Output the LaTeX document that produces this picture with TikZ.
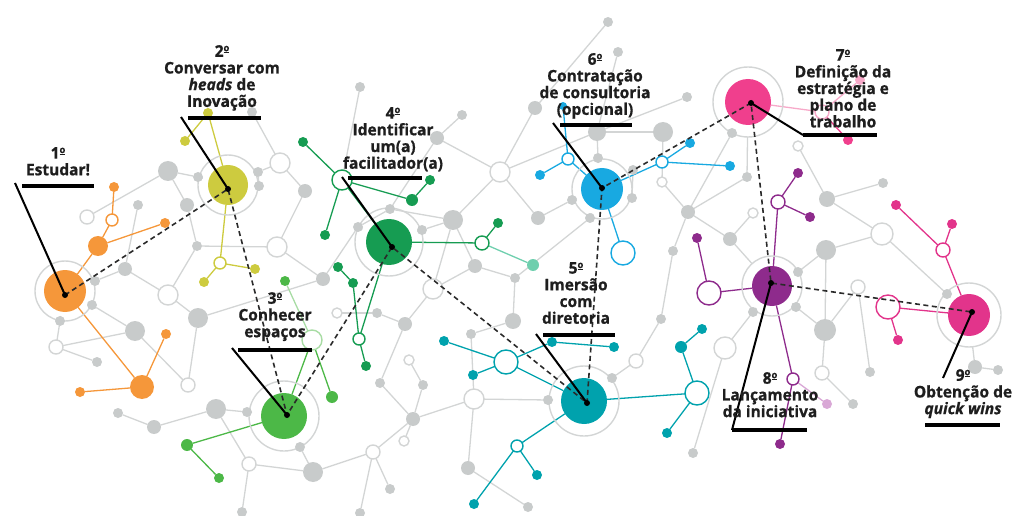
\documentclass[tikz,border=0pt]{standalone}
\usepackage{fontspec}
\setmainfont{Open Sans}[FakeStretch=0.97]
\pgfdeclarelayer{edgelayer}
\pgfsetlayers{edgelayer,main}
\definecolor{gnode}{HTML}{C8CBCB}
\definecolor{gline}{HTML}{D3D5D5}
\definecolor{corange}{HTML}{F5973A}
\definecolor{cyellow}{HTML}{CDCB3F}
\definecolor{cgreen}{HTML}{4CB847}
\definecolor{cgreenlight}{HTML}{A8DCA4}
\definecolor{cdgreen}{HTML}{169C52}
\definecolor{cmint}{HTML}{6FCFAE}
\definecolor{cteal}{HTML}{00A2AD}
\definecolor{cblue}{HTML}{18A9E1}
\definecolor{cpink}{HTML}{F03F8D}
\definecolor{cpinklight}{HTML}{F7A9C9}
\definecolor{cpurple}{HTML}{8E2B8C}
\definecolor{cpurplelight}{HTML}{D9A8D6}
\definecolor{cmag}{HTML}{E2348B}
\definecolor{dashc}{HTML}{2A2A2A}
\definecolor{textc}{HTML}{1E1E1E}
\newcommand{\ordo}{\raisebox{5.6pt}{\fontsize{9.5}{9.5}\selectfont\underline{o}}}
\tikzset{
  gfill/.style={circle, fill=gnode, draw=none, inner sep=0pt, outer sep=0pt},
  gopen/.style={circle, fill=white, draw=gline, line width=1.4pt, inner sep=0pt, outer sep=0pt},
  cfill/.style={circle, fill=#1, draw=none, inner sep=0pt, outer sep=0pt},
  copen/.style={circle, fill=white, draw=#1, line width=1.4pt, inner sep=0pt, outer sep=0pt},
  gedge/.style={draw=gline, line width=1.3pt},
  cedge/.style={draw=#1, line width=1.3pt},
  halo/.style={circle, draw=gline, line width=1.4pt, fill=none, inner sep=0pt, outer sep=0pt},
  bignode/.style={circle, fill=#1, draw=none, inner sep=0pt, outer sep=0pt},
  blackdot/.style={circle, fill=black, inner sep=0pt, minimum size=6pt},
  pathdash/.style={draw=dashc, line width=1.6pt, dash pattern=on 5pt off 3.5pt},
  leaderline/.style={draw=black, line width=2pt},
  barline/.style={draw=black, line width=4.5pt},
  lbl/.style={font=\fontsize{16}{16.7}\selectfont\bfseries\addfontfeature{FakeBold=0.8}, text=textc, align=center, anchor=north, inner sep=0pt},
}
\begin{document}
\begin{tikzpicture}[x=1pt,y=-1pt]
\useasboundingbox (0,0) rectangle (1013,516);
% halos
\foreach \n/\x/\y/\r in {H1/65/291/30, H2/228/185/30, H3/284/416/35, H4/389/242/34, H5/584/401/35, H6/602/189/30, H7/748/102/35, H8/772/286/30, H9/969/315/32}
  \node[halo, minimum size=2*\r] (\n) at (\x,\y) {};
% grey filled nodes
\foreach \n/\x/\y/\r in {g2/168/171/10, g3/138/205/5, g4/187/205/7, g5/198/177/5, g6/125/269/7, g7/95/281/5, g8/92/305/5, g9/60/321/5, g11/97/362/5, g12/135/331/10, g15/198/318/10, g16/197/246/5, g17/258/172/5, g18/259/186/5, g20/305/191/7, g22/252/112/5, g23/323/279/7, g24/216/409/10, g25/247/412/5, g26/118/413/5, g27/154/427/7, g29/242/512/5, g30/313/472/10, g31/300/447/5,
  g32/360/87/5, g33/462/115/5, g34/437/138/7, g36/453/220/10, g37/538/218/7, g38/390/209/5, g39/358/227/5, g40/422/230/5, g41/535/108/7, g42/608/22/5, g43/618/52/5, g44/597/132/9, g45/663/132/10, g47/633/170/5, g48/572/200/5, g49/590/218/5, g50/632/198/5, g51/475/266/7, g52/515/278/5, g54/377/313/5, g55/405/324/7, g56/513/321/8, g57/471/334/5, g60/380/383/5, g61/423/385/5, g63/413/419/7, g66/390/489/5, g67/360/513/5, g68/468/468/7, g69/528/507/5, g70/548/400/5, g71/612/378/5, g73/661/319/5,
  g74/687/97/5, g75/732/133/5, g76/747/177/5, g77/688/212/7, g79/827/199/8, g80/883/183/5, g83/826/250/10, g84/730/239/7, g85/798/272/5, g86/796/307/5, g87/753/312/5, g89/825/330/11, g91/870/372/5, g93/853/404/5, g94/693/453/5, g95/947/294/5, g96/975/367/7, g97/998/370/5, g98/598/158/5, g99/673/251/5}
  \node[gfill, minimum size=2*\r] (\n) at (\x,\y) {};
% grey open nodes
\foreach \n/\x/\y/\r in {g1/87/217/7, g10/56/347/7, g13/168/295/10, g14/188/385/7, g19/280/163/10, g21/277/247/10, g28/249/464/7, g35/500/172/10, g46/662/182/5, g53/433/289/10, g58/337/313/5, g59/409/360/5, g62/474/399/10, g64/404/441/5, g65/373/452/7, g72/636/361/7, g78/798/146/5, g81/753/213/5, g82/882/234/11, g88/725/348/11, g90/858/287/7, g92/822/373/7}
  \node[gopen, minimum size=2*\r] (\n) at (\x,\y) {};
% big step nodes
\foreach \n/\x/\y/\r/\c in {B1/65/291/21/corange, B2/228/185/20/cyellow, B3/284/416/23/cgreen, B4/389/242/23/cdgreen, B5/584/401/23/cteal, B6/602/189/21/cblue, B7/748/102/23/cpink, B8/772/286/20/cpurple, B9/969/315/21/cmag}
  \node[bignode=\c, minimum size=2*\r] (\n) at (\x,\y) {};
% coloured filled nodes
\foreach \n/\x/\y/\r/\c in {o1a/98/246/10/corange, o1c/114/187/5/corange, o1d/165/223/5/corange, o1e/142/387/12/corange, o1f/166/334/5/corange, o1g/80/392/5/corange,
  y2a/208/113/5/cyellow, y2b/185/141/5/cyellow, y2d/204/282/5/cyellow, y2e/255/269/5/cyellow,
  c3a/187/445/6/cgreen, c3b/219/478/5/cgreen, c3d/332/397/6/cgreen, c3e/285/281/5/cgreen,
  c4b/412/200/6/cdgreen, c4c/430/180/5/cdgreen, c4d/303/142/5/cdgreen, c4e/325/235/5/cdgreen, c4g/498/223/5/cdgreen, c4i/533/265/6/cmint, c4j/338/267/5/cdgreen, c4k/353/283/5/cdgreen, c4m/366/366/5/cdgreen,
  t5b/444/341/5/cteal, t5c/473/375/5/cteal, t5d/552/342/5/cteal, t5e/614/347/5/cteal, t5g/537/475/5/cteal, t5h/474/504/5/cteal, t5j/667/433/5/cteal, t5k/702/329/5/cteal, t5l/681/347/6/cteal,
  b6b/540/175/5/cblue, b6e/690/143/5/cblue, b6f/730/166/5/cblue, b6g/563/106/4/cblue,
  p7b/860/80/5/cpinklight, p7c/848/140/5/cpink,
  u8b/697/238/5/cpurple, u8d/798/173/5/cpurple, u8e/810/217/5/cpurple, u8g/827/404/5/cpurplelight, u8h/780/444/5/cpurple,
  m9b/898/340/5/cmag, m9d/896/205/5/cmag, m9e/952/224/5/cmag}
  \node[cfill=\c, minimum size=2*\r] (\n) at (\x,\y) {};
% coloured open nodes
\foreach \n/\x/\y/\r/\c in {o1b/112/220/6/corange, y2c/220/263/6/cyellow, c3c/312/340/10/cgreenlight, c4a/342/180/10/cdgreen, c4f/482/243/7/cdgreen, c4l/359/339/6/cdgreen, t5a/506/362/12/cteal, t5f/517/446/6/cteal, t5i/697/393/12/cteal, b6a/568/159/6/cblue, b6c/623/253/12/cblue, b6d/662/162/6/cblue, p7a/822/112/7/cpinklight, u8a/709/293/12/cpurple, u8c/778/202/7/cpurple, u8f/793/379/6/cpurple, m9a/888/307/12/cmag, m9c/943/250/7/cmag}
  \node[copen=\c, minimum size=2*\r] (\n) at (\x,\y) {};
% edges
\begin{pgfonlayer}{edgelayer}
\foreach \a/\b in {g1/g2, g2/g5, g5/H2, g3/g6, g2/g4, g4/g16, g16/g13, g6/g13, g6/g7, g7/H1, g8/H1, g8/g12, g9/H1, g9/g10, g10/g11, g10/g12, g12/g14, g15/g14, g15/g23, g15/g13, g21/g16, g21/g20, g21/g23, g19/g17, g19/g20, g19/g22, g17/g18, g18/H2, g26/g27, g27/g24, g24/g25, g25/H3, g24/g28, g28/g29, g28/g30, g30/g31, g31/H3, g30/g65, g23/g39,
  g32/c4a, g34/g33, g34/g35, g34/g38, g35/g36, g35/g37, g35/g44, g35/g41, g42/g41, g43/g44, g44/g45, g44/g98, g98/H6, g45/g46, g47/H6, g36/g40, g36/g38, g38/g39, g39/H4, g40/H4, g36/g53, g36/g51, g37/g48, g48/H6, g49/H6, g49/g52, g51/g52, g51/g53, g53/g55, g55/g54, g54/g58, g55/g60, g56/g57, g57/g62, g52/g56, g59/g61, g60/g63, g61/g63, g62/g63, g62/g68, g62/g70, g70/H5, g63/g64, g65/g63, g65/g66, g65/g67, g68/g69, g71/H5, g71/g72, g72/g73, g73/g99, g99/g77, g50/H6, g50/g47, g46/g77,
  g74/g44, g75/H7, g75/g77, g76/g77, g76/H7, g77/g84, g84/H8, g84/g81, g78/g79, g79/g80, g79/g82, g82/g83, g83/g85, g85/H8, g83/g89, g89/g86, g86/H8, g87/H8, g87/g88, g89/g90, g90/g91, g92/g93, g89/g92, g82/g95, g95/H9, g96/g97, g96/H9, g88/g94}
  \draw[gedge] (\a) -- (\b);
\foreach \a/\b/\c in {B1/o1a/corange, o1a/o1b/corange, o1b/o1c/corange, o1a/o1d/corange, B1/o1e/corange, o1e/o1f/corange, o1e/o1g/corange,
  B2/y2a/cyellow, y2a/y2b/cyellow, B2/y2c/cyellow, y2c/y2d/cyellow, y2c/y2e/cyellow,
  B3/c3a/cgreen, c3a/c3b/cgreen, B3/c3c/cgreen, c3c/c3d/cgreen, c3c/c3e/cgreenlight,
  B4/c4a/cdgreen, c4a/c4d/cdgreen, c4a/c4e/cdgreen, c4a/c4b/cdgreen, c4b/c4c/cdgreen, B4/c4f/cdgreen, c4f/c4g/cdgreen, c4f/c4i/cmint, B4/c4l/cdgreen, c4l/c4m/cdgreen, c4l/c4k/cdgreen, c4k/c4j/cdgreen,
  B5/t5a/cteal, t5a/t5b/cteal, t5a/t5c/cteal, t5a/t5d/cteal, t5d/t5e/cteal, B5/t5f/cteal, t5f/t5g/cteal, t5f/t5h/cteal, B5/t5i/cteal, t5i/t5l/cteal, t5l/t5k/cteal, t5i/t5j/cteal,
  B6/b6a/cblue, b6a/b6b/cblue, b6a/b6g/cblue, B6/b6c/cblue, B6/b6d/cblue, b6d/b6e/cblue, b6d/b6f/cblue,
  B7/p7a/cpinklight, p7a/p7b/cpinklight, p7a/p7c/cpink,
  B8/u8a/cpurple, u8a/u8b/cpurple, B8/u8c/cpurple, u8c/u8d/cpurple, u8c/u8e/cpurple, B8/u8f/cpurple, u8f/u8g/cpurplelight, u8f/u8h/cpurple,
  B9/m9a/cmag, m9a/m9b/cmag, B9/m9c/cmag, m9c/m9d/cmag, m9c/m9e/cmag}
  \draw[cedge=\c] (\a) -- (\b);
\end{pgfonlayer}
% step dots
\foreach \n/\x/\y in {d1/65/295, d2/228/189, d3/287/415, d4/392/247, d5/587/403, d6/602/188, d7/751/103, d8/771/283, d9/972/312}
  \coordinate (\n) at (\x,\y);
% dashed route
\draw[pathdash] (d1) -- (d2) -- (d3) -- (d4) -- (d5) -- (d6) -- (d7) -- (d8) -- (d9);
% bars and leader ends
\foreach \n/\xa/\xb/\y in {1/22/94/186, 2/188/261/118, 3/238/312/350, 4/348/422/178, 5/543/615/335, 6/560/632/125, 7/803/877/135, 8/732/807/430, 9/925/1000/425}
  { \coordinate (bl\n) at (\xa,\y); \coordinate (br\n) at (\xb,\y); }
\foreach \n/\x/\y in {1/15/183, 2/181/117, 3/232/348, 4/342/177, 5/536/334, 6/553/123, 7/803/135, 8/732/430, 9/943/378}
  \coordinate (ls\n) at (\x,\y);
\foreach \n in {1,...,9} {
  \draw[barline] (bl\n) -- (br\n);
  \draw[leaderline] (ls\n) -- (d\n);
}
\foreach \n in {1,...,9}
  \node[blackdot] (k\n) at (d\n) {};
% labels
\node[lbl] (L1) at (58,147) {1\ordo\\Estudar!};
\node[lbl] (L2) at (222,45) {2\ordo\\Conversar com\\\textit{heads} de\\Inovação};
\node[lbl] (L3) at (275,292) {3\ordo\\Conhecer\\espaços};
\node[lbl] (L4) at (393,107) {4\ordo\\Identificar\\um(a)\\facilitador(a)};
\node[lbl] (L5) at (576,262) {5\ordo\\Imersão\\com\\diretoria};
\node[lbl] (L6) at (595,53) {6\ordo\\Contratação\\de consultoria\\(opcional)};
\node[lbl] (L7) at (843,49) {7\ordo\\Definição da\\estratégia e\\plano de\\trabalho};
\node[lbl] (L8) at (770,372) {8\ordo\\Lançamento\\da iniciativa};
\node[lbl] (L9) at (963,369) {9\ordo\\Obtenção de\\\textit{quick wins}};
\end{tikzpicture}
\end{document}
